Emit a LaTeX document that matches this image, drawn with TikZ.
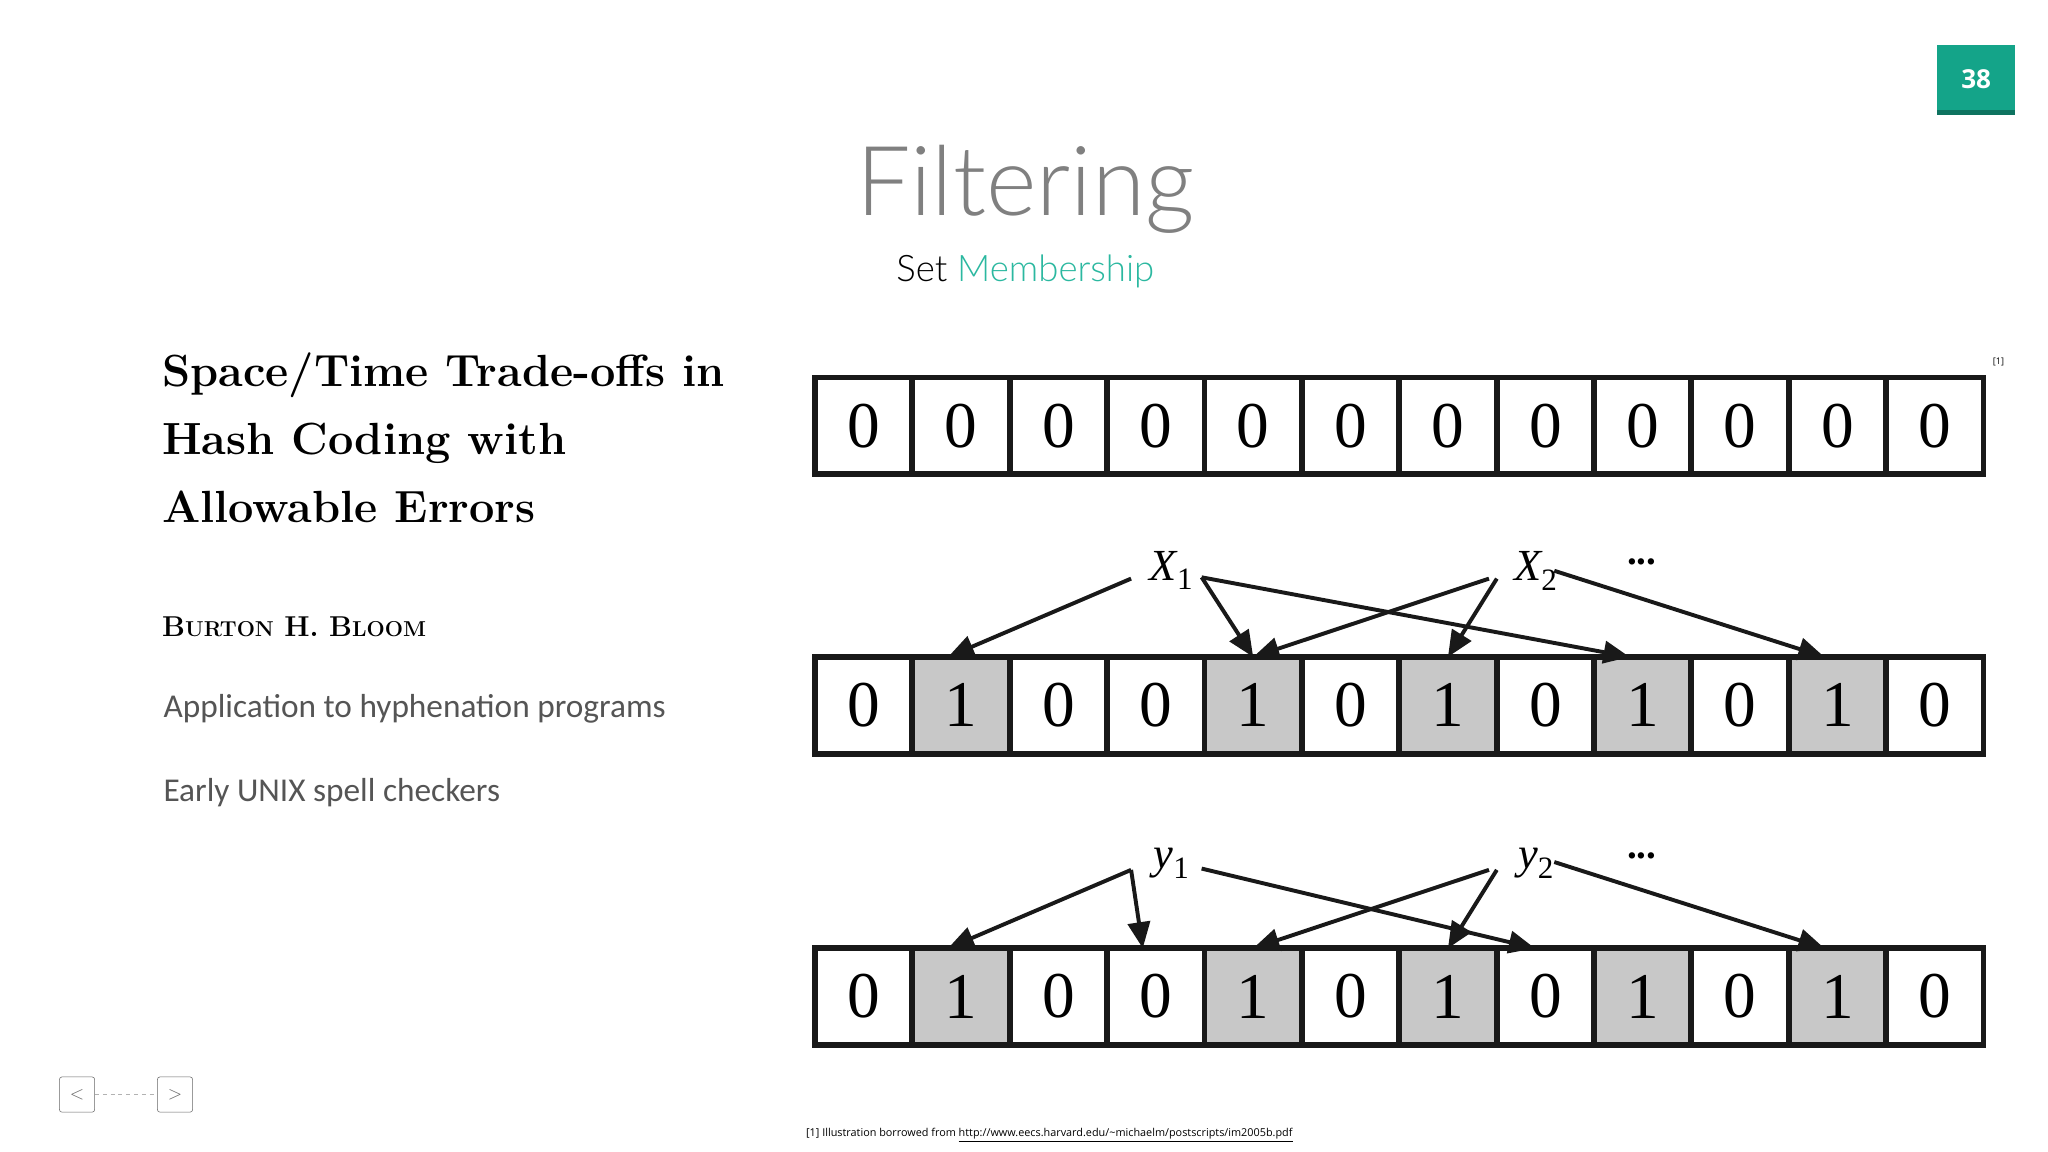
\documentclass[tikz,border=0pt]{standalone}
\usepackage{fontspec}
\newfontfamily\lato{Lato Light}
\newfontfamily\carl{Carlito}
\newfontfamily\opens{Open Sans}
\newfontfamily\tnr{Liberation Serif}
\usetikzlibrary{arrows.meta}
\definecolor{teal1}{HTML}{14A489}
\definecolor{teal2}{HTML}{2BB8A0}
\definecolor{cellgray}{HTML}{C8C8C8}
\definecolor{txtgray}{HTML}{555555}
\begin{document}
\begin{tikzpicture}[x=1pt,y=-1pt,
  cellbox/.style={draw=black!90,line width=4.5pt,minimum width=74.55pt,minimum height=74pt,inner sep=0pt,outer sep=0pt,font=\tnr\fontsize{50}{50}\selectfont,anchor=north west},
  graycell/.style={cellbox,fill=cellgray},
  arr/.style={line width=3pt,-{Triangle[length=20pt,width=17pt]},black!90},
  lab/.style={font=\tnr\itshape\fontsize{34}{34}\selectfont,inner sep=0pt}]
\useasboundingbox (0,0) rectangle (1568,882);
\fill[white] (0,0) rectangle (1568,882);
% page number
\node[fill=teal1,minimum width=60pt,minimum height=53pt,inner sep=0pt,text=white,font=\opens\bfseries\fontsize{20}{20}\selectfont] (pg) at (1513,61) {38};
\fill[teal1!70!black] (1483,84) rectangle (1543,88);
% title
\node[font=\lato\fontsize{74}{74}\selectfont,text=black!50] (title) at (785,145) {Filtering};
\node[font=\lato\fontsize{28}{28}\selectfont,text=black] (sub) at (785,208) {Set \textcolor{teal2}{Membership}};
% left text
\node[anchor=north west,align=left,font=\bfseries\fontsize{34.5}{52}\selectfont,inner sep=0pt] (paper) at (124,270) {Space/Time Trade-offs in\\Hash Coding with\\Allowable Errors};
\node[anchor=west,font=\bfseries\fontsize{22}{22}\selectfont,inner sep=0pt] (auth) at (124,480) {B{\fontsize{16.5}{16.5}\selectfont URTON}\hspace{8pt}H.\hspace{8pt}B{\fontsize{16.5}{16.5}\selectfont LOOM}};
\node[anchor=west,font=\carl\fontsize{25.5}{25.5}\selectfont,text=txtgray,inner sep=0pt] (app) at (125,543) {Application to hyphenation programs};
\node[anchor=west,font=\carl\fontsize{25.5}{25.5}\selectfont,text=txtgray,inner sep=0pt] (early) at (125,607) {Early UNIX spell checkers};
% arrays
\foreach \i in {0,...,11} {
  \node[cellbox] (a\i) at ({624+74.55*\i},289) {0};
}
\foreach \r/\y in {b/503,c/726} {
  \foreach \i/\v in {0/0,1/1,2/0,3/0,4/1,5/0,6/1,7/0,8/1,9/0,10/1,11/0} {
    \ifnum\v=1
      \node[graycell] (\r\i) at ({624+74.55*\i},\y) {1};
    \else
      \node[cellbox] (\r\i) at ({624+74.55*\i},\y) {0};
    \fi
  }
}
\node[font=\opens\fontsize{7}{7}\selectfont] (ref) at (1530,277) {[1]};
% labels row 2
\node[lab] (x1) at (897,437) {X\textsubscript{\upshape 1}};
\node[lab] (x2) at (1176,437) {X\textsubscript{\upshape 2}};
\node[font=\tnr\bfseries\fontsize{30}{30}\selectfont] (d1) at (1257,430) {...};
\coordinate (x1l) at (866,443); \coordinate (x1r) at (920,442);
\coordinate (x2l) at (1140,443); \coordinate (x2m) at (1146,443); \coordinate (x2r) at (1190,437);
\draw[arr] (x1l) -- ([xshift=-10pt]b1.north);
\draw[arr] (x1r) -- (b4.north);
\draw[arr] (x1r) -- ([xshift=-10pt]b8.north);
\draw[arr] (x2l) -- (b4.north);
\draw[arr] (x2m) -- (b6.north);
\draw[arr] (x2r) -- ([xshift=-10pt]b10.north);
% labels row 3
\node[lab] (y1) at (897,661) {y\textsubscript{\upshape 1}};
\node[lab] (y2) at (1176,661) {y\textsubscript{\upshape 2}};
\node[font=\tnr\bfseries\fontsize{30}{30}\selectfont] (d2) at (1257,655) {...};
\coordinate (y1l) at (866,666); \coordinate (y1r) at (920,665);
\coordinate (y2l) at (1140,666); \coordinate (y2m) at (1146,666); \coordinate (y2r) at (1190,660);
\draw[arr] (y1l) -- ([xshift=-10pt]c1.north);
\draw[arr] (y1l) -- ([xshift=-10pt]c3.north);
\draw[arr] (y1r) -- ([xshift=-8pt]c7.north);
\draw[arr] (y2l) -- (c4.north);
\draw[arr] (y2m) -- (c6.north);
\draw[arr] (y2r) -- ([xshift=-10pt]c10.north);
% nav
\node[draw=black!60,rounded corners=2pt,minimum size=27pt,inner sep=0pt,font=\opens\fontsize{14}{14}\selectfont,text=black!60] (prev) at (59,838) {$<$};
\node[draw=black!60,rounded corners=2pt,minimum size=27pt,inner sep=0pt,font=\opens\fontsize{14}{14}\selectfont,text=black!60] (next) at (134,838) {$>$};
\draw[black!30,dashed] (prev) -- (next);
% footnote
\node[anchor=west,font=\opens\fontsize{8.3}{8.3}\selectfont,inner sep=0pt] (foot) at (617,869) {[1] Illustration borrowed from \underline{http://www.eecs.harvard.edu/\textasciitilde michaelm/postscripts/im2005b.pdf}};
\end{tikzpicture}
\end{document}
